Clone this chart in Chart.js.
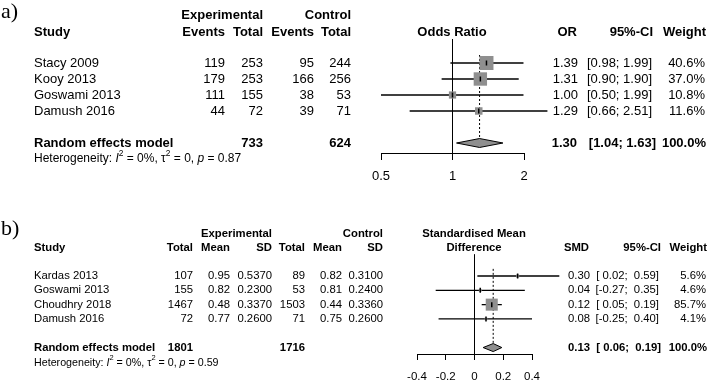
<!DOCTYPE html>
<html><head><meta charset="utf-8">
<script src="https://cdn.jsdelivr.net/npm/chart.js@4.4.0/dist/chart.umd.min.js"></script>
<style>
body{margin:0;background:#fff;width:709px;height:382px;overflow:hidden;position:relative}
canvas{position:absolute;left:0}
#ca{top:0}
#cb{top:185px}
</style></head><body>
<canvas id="ca" width="709" height="185"></canvas>
<canvas id="cb" width="709" height="197"></canvas>
<script>
// panel a) odds ratio
var studiesA = ['Stacy 2009', 'Kooy 2013', 'Goswami 2013', 'Damush 2016'];
var expEventsA = [119, 179, 111, 44];
var expTotalA = [253, 253, 155, 72];
var ctrlEventsA = [95, 166, 38, 39];
var ctrlTotalA = [244, 256, 53, 71];
var orA = [1.39, 1.31, 1.00, 1.29];
var lowerA = [0.98, 0.90, 0.50, 0.66];
var upperA = [1.99, 1.90, 1.99, 2.51];
var weightA = [40.6, 37.0, 10.8, 11.6];
var pooledA = [1.30, 1.04, 1.63];   // estimate, lower, upper
var totalsA = [733, 624];
var hetA = ['0%', '0', '0.87'];      // I2, tau2, p
var ticksA = [0.5, 1, 2];

// panel b) standardised mean difference
var studiesB = ['Kardas 2013', 'Goswami 2013', 'Choudhry 2018', 'Damush 2016'];
var expTotalB = [107, 155, 1467, 72];
var expMeanB = [0.95, 0.82, 0.48, 0.77];
var expSdB = [0.5370, 0.2300, 0.3370, 0.2600];
var ctrlTotalB = [89, 53, 1503, 71];
var ctrlMeanB = [0.82, 0.81, 0.44, 0.75];
var ctrlSdB = [0.3100, 0.2400, 0.3360, 0.2600];
var smdB = [0.30, 0.04, 0.12, 0.08];
var lowerB = [0.02, -0.27, 0.05, -0.25];
var upperB = [0.59, 0.35, 0.19, 0.40];
var weightB = [5.6, 4.6, 85.7, 4.1];
var pooledB = [0.13, 0.06, 0.19];
var totalsB = [1801, 1716];
var hetB = ['0%', '0', '0.59'];
var ticksB = [-0.4, -0.2, 0, 0.2, 0.4];

var FAM = '"Liberation Sans", Arial, sans-serif';
Chart.defaults.color = '#000';
Chart.defaults.font.family = FAM;
var GREY = '#8f8f8f';
var POOL_ROW = 6;

function txt(ctx, s, x, y, align, font) {
  ctx.font = font; ctx.textAlign = align; ctx.fillText(s, x, y);
}

function drawHet(ctx, x, y, size, h) {
  var parts = [['Heterogeneity: ', ''], ['I', 'italic'], ['2', 'sup'], [' = ' + h[0] + ', ', ''],
               ['\u03c4', ''], ['2', 'sup'], [' = ' + h[1] + ', ', ''], ['p', 'italic'], [' = ' + h[2], '']];
  ctx.textAlign = 'left';
  parts.forEach(function (p) {
    var yy = y, f = size + 'px ' + FAM;
    if (p[1] == 'italic') f = 'italic ' + f;
    if (p[1] == 'sup') { f = (size * 0.7) + 'px ' + FAM; yy = y - size * 0.42; }
    ctx.font = f;
    ctx.fillText(p[0], x, yy);
    x += ctx.measureText(p[0]).width;
  });
}

function ciText(lo, hi, pad) {
  function f(v) { return (pad && v >= 0 ? ' ' : '') + v.toFixed(2); }
  return '[' + f(lo) + '; ' + f(hi) + ']';
}

// CI lines, weighted squares, centre marks, dotted pooled line and diamond
function forestSets(est, lo, hi, w, side, pooled) {
  var sets = [];
  est.forEach(function (e, i) {
    sets.push({data: [{x: lo[i], y: i + 1}, {x: hi[i], y: i + 1}], showLine: true, pointRadius: 0,
               borderColor: '#000', borderWidth: 1.3, clip: false, order: 3});
  });
  sets.push({data: est.map(function (e, i) { return {x: e, y: i + 1}; }), pointStyle: 'rect',
             pointRadius: w.map(function (v) { return side * Math.sqrt(v) / Math.SQRT2; }),
             backgroundColor: GREY, borderWidth: 0, clip: false, order: 2});
  sets.push({data: est.map(function (e, i) { return {x: e, y: i + 1}; }), pointStyle: 'line', rotation: 90,
             pointRadius: 2.5, borderColor: '#000', borderWidth: 1.5, clip: false, order: 1});
  sets.push({data: [{x: pooled[0], y: 0.5}, {x: pooled[0], y: POOL_ROW - 0.28}], showLine: true, pointRadius: 0,
             borderColor: '#000', borderWidth: 1, borderDash: [2, 2], clip: false, order: 4});
  sets.push({type: 'line', data: [{x: pooled[1], y: POOL_ROW}, {x: pooled[0], y: POOL_ROW - 0.28},
             {x: pooled[2], y: POOL_ROW}, {x: pooled[0], y: POOL_ROW + 0.28}, {x: pooled[1], y: POOL_ROW}],
             fill: 'shape', backgroundColor: GREY, borderColor: '#000', borderWidth: 1, pointRadius: 0,
             tension: 0, clip: false, order: 1});
  return sets;
}

function xScale(type, ticks, size, pad, tl, h) {
  return {
    type: type, min: ticks[0], max: ticks[ticks.length - 1],
    afterBuildTicks: function (s) { s.ticks = ticks.map(function (v) { return {value: v}; }); },
    afterFit: function (s) { s.height = h; },
    ticks: {callback: function (v) { return String(v); }, color: '#000', font: {size: size},
            padding: pad, maxRotation: 0, autoSkip: false},
    grid: {drawOnChartArea: false, color: '#000', tickLength: tl, tickWidth: 1},
    border: {color: '#000', width: 1}
  };
}

// ---- panel a ----
var refA = {data: [{x: 1, y: -0.5}, {x: 1, y: 6.625}], showLine: true, pointRadius: 0,
            borderColor: '#000', borderWidth: 1, clip: false, order: 5};
var tableA = {
  id: 'tableA',
  afterDraw: function (chart) {
    var ctx = chart.ctx, y = chart.scales.y;
    var R = '13px ' + FAM, B = 'bold 13px ' + FAM;
    ctx.save();
    ctx.fillStyle = '#000'; ctx.textBaseline = 'middle';
    txt(ctx, 'a)', 1, 12, 'left', '22px "Liberation Serif", serif');
    var h1 = y.getPixelForValue(-1.95), h2 = y.getPixelForValue(-0.9);
    txt(ctx, 'Experimental', 263, h1, 'right', B);
    txt(ctx, 'Control', 351, h1, 'right', B);
    txt(ctx, 'Study', 34, h2, 'left', B);
    txt(ctx, 'Events', 225, h2, 'right', B);
    txt(ctx, 'Total', 263, h2, 'right', B);
    txt(ctx, 'Events', 314, h2, 'right', B);
    txt(ctx, 'Total', 351, h2, 'right', B);
    txt(ctx, 'Odds Ratio', 452, h2, 'center', B);
    txt(ctx, 'OR', 577, h2, 'right', B);
    txt(ctx, '95%-CI', 653, h2, 'right', B);
    txt(ctx, 'Weight', 706, h2, 'right', B);
    studiesA.forEach(function (s, i) {
      var py = y.getPixelForValue(i + 1);
      txt(ctx, s, 34, py, 'left', R);
      txt(ctx, String(expEventsA[i]), 225, py, 'right', R);
      txt(ctx, String(expTotalA[i]), 263, py, 'right', R);
      txt(ctx, String(ctrlEventsA[i]), 314, py, 'right', R);
      txt(ctx, String(ctrlTotalA[i]), 351, py, 'right', R);
      txt(ctx, orA[i].toFixed(2), 578, py, 'right', R);
      txt(ctx, ciText(lowerA[i], upperA[i], false), 652, py, 'right', R);
      txt(ctx, weightA[i].toFixed(1) + '%', 705, py, 'right', R);
    });
    var pp = y.getPixelForValue(POOL_ROW);
    txt(ctx, 'Random effects model', 34, pp, 'left', B);
    txt(ctx, String(totalsA[0]), 263, pp, 'right', B);
    txt(ctx, String(totalsA[1]), 351, pp, 'right', B);
    txt(ctx, pooledA[0].toFixed(2), 577, pp, 'right', B);
    txt(ctx, ciText(pooledA[1], pooledA[2], false), 656, pp, 'right', B);
    txt(ctx, '100.0%', 706, pp, 'right', B);
    drawHet(ctx, 34, y.getPixelForValue(7.0), 12, hetA);
    ctx.restore();
  }
};
new Chart(document.getElementById('ca'), {
  type: 'scatter',
  data: {datasets: [refA].concat(forestSets(orA, lowerA, upperA, weightA, 2.2, pooledA))},
  options: {
    responsive: false, animation: false,
    layout: {padding: {left: 381, right: 709 - 524, top: 47, bottom: 0}},
    plugins: {legend: {display: false}, tooltip: {enabled: false}},
    scales: {
      x: xScale('logarithmic', ticksA, 13, 9, 7, 32),
      y: {type: 'linear', display: false, reverse: true, min: 0, max: 6.625}
    }
  },
  plugins: [tableA]
});

// ---- panel b ----
var refB = {data: [{x: 0, y: -0.5}, {x: 0, y: 6.45}], showLine: true, pointRadius: 0,
            borderColor: '#000', borderWidth: 1, clip: false, order: 5};
var tableB = {
  id: 'tableB',
  afterDraw: function (chart) {
    var ctx = chart.ctx, y = chart.scales.y;
    var R = '11.3px ' + FAM, B = 'bold 11.3px ' + FAM;
    ctx.save();
    ctx.fillStyle = '#000'; ctx.textBaseline = 'middle';
    txt(ctx, 'b)', 1, 44, 'left', '22px "Liberation Serif", serif');
    var h1 = y.getPixelForValue(-1.95), h2 = y.getPixelForValue(-0.95);
    txt(ctx, 'Experimental', 272, h1, 'right', B);
    txt(ctx, 'Control', 383, h1, 'right', B);
    txt(ctx, 'Standardised Mean', 474, h1, 'center', B);
    txt(ctx, 'Study', 34, h2, 'left', B);
    txt(ctx, 'Total', 193, h2, 'right', B);
    txt(ctx, 'Mean', 230, h2, 'right', B);
    txt(ctx, 'SD', 272, h2, 'right', B);
    txt(ctx, 'Total', 305, h2, 'right', B);
    txt(ctx, 'Mean', 342, h2, 'right', B);
    txt(ctx, 'SD', 383, h2, 'right', B);
    txt(ctx, 'Difference', 474, h2, 'center', B);
    txt(ctx, 'SMD', 589, h2, 'right', B);
    txt(ctx, '95%-CI', 661, h2, 'right', B);
    txt(ctx, 'Weight', 707, h2, 'right', B);
    studiesB.forEach(function (s, i) {
      var py = y.getPixelForValue(i + 1);
      txt(ctx, s, 34, py, 'left', R);
      txt(ctx, String(expTotalB[i]), 193, py, 'right', R);
      txt(ctx, expMeanB[i].toFixed(2), 230, py, 'right', R);
      txt(ctx, expSdB[i].toFixed(4), 272, py, 'right', R);
      txt(ctx, String(ctrlTotalB[i]), 305, py, 'right', R);
      txt(ctx, ctrlMeanB[i].toFixed(2), 342, py, 'right', R);
      txt(ctx, ctrlSdB[i].toFixed(4), 383, py, 'right', R);
      txt(ctx, smdB[i].toFixed(2), 590, py, 'right', R);
      txt(ctx, ciText(lowerB[i], upperB[i], true), 659, py, 'right', R);
      txt(ctx, weightB[i].toFixed(1) + '%', 706, py, 'right', R);
    });
    var pp = y.getPixelForValue(POOL_ROW);
    txt(ctx, 'Random effects model', 34, pp, 'left', B);
    txt(ctx, String(totalsB[0]), 193, pp, 'right', B);
    txt(ctx, String(totalsB[1]), 305, pp, 'right', B);
    txt(ctx, pooledB[0].toFixed(2), 590, pp, 'right', B);
    txt(ctx, ciText(pooledB[1], pooledB[2], true), 661, pp, 'right', B);
    txt(ctx, '100.0%', 707, pp, 'right', B);
    drawHet(ctx, 34, y.getPixelForValue(7.05), 10.7, hetB);
    ctx.restore();
  }
};
new Chart(document.getElementById('cb'), {
  type: 'scatter',
  data: {datasets: [refB].concat(forestSets(smdB, lowerB, upperB, weightB, 1.3, pooledB))},
  options: {
    responsive: false, animation: false,
    layout: {padding: {left: 417, right: 709 - 532, top: 76.7, bottom: 0}},
    plugins: {legend: {display: false}, tooltip: {enabled: false}},
    scales: {
      x: xScale('linear', ticksB, 11.5, 10, 6, 28),
      y: {type: 'linear', display: false, reverse: true, min: 0, max: 6.45}
    }
  },
  plugins: [tableB]
});
</script></body></html>
